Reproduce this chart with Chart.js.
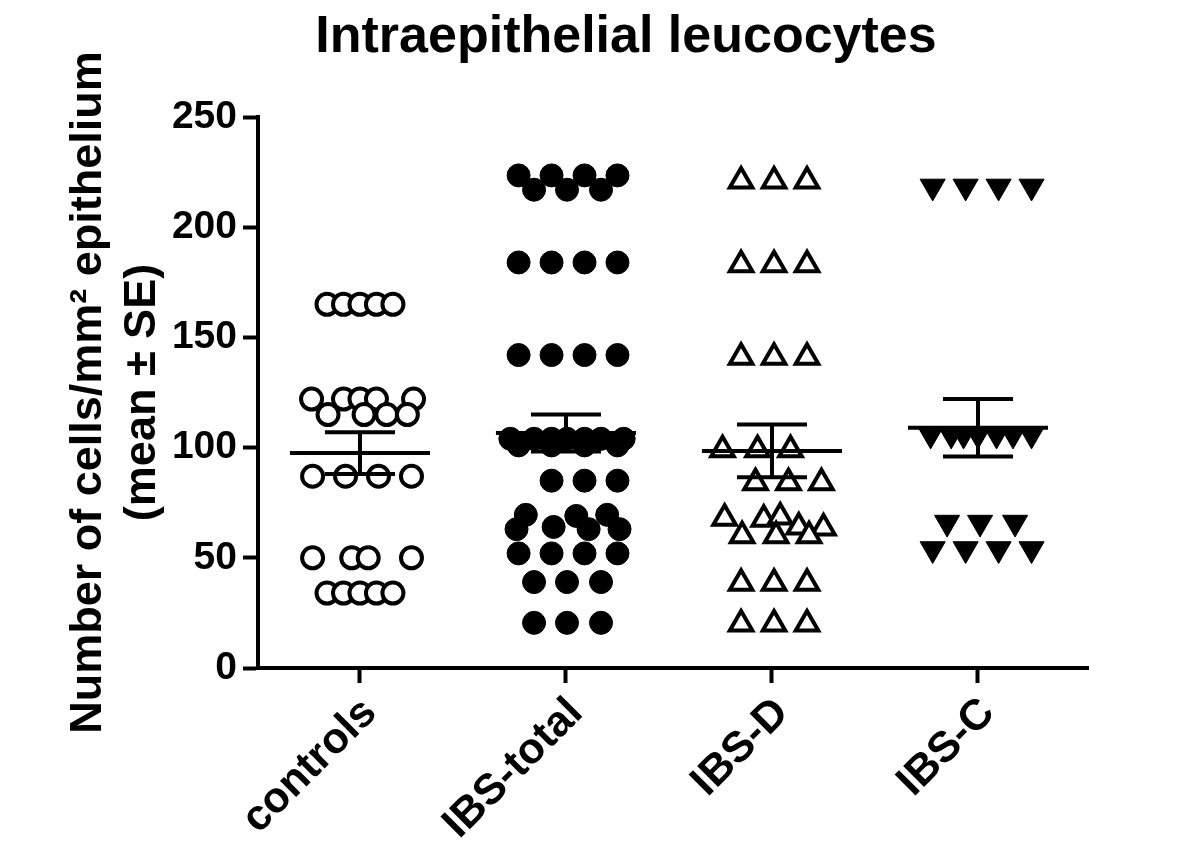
<!DOCTYPE html>
<html>
<head>
<meta charset="utf-8">
<title>Intraepithelial leucocytes</title>
<script src="https://cdn.jsdelivr.net/npm/chart.js@4.4.1/dist/chart.umd.min.js"></script>
<style>
  html, body { margin: 0; padding: 0; background: #fff; }
  #wrap { width: 1181px; height: 853px; }
</style>
</head>
<body>
<div id="wrap"><canvas id="grafico" width="1181" height="853"></canvas></div>
<script>
// Categorias e ticks
const groupLabels = ['controls', 'IBS-total', 'IBS-D', 'IBS-C'];
const yTicks = [0, 50, 100, 150, 200, 250];

// Valores individuais (cells/mm2) e deslocamento horizontal de cada ponto
const controlsValues = [165, 165, 165, 165, 165, 122, 122, 122, 122, 122, 115, 115, 115, 115,
  87, 87, 87, 87, 50, 50, 50, 50, 34, 34, 34, 34, 34];
const controlsJitter = [-0.16, -0.08, 0, 0.08, 0.16, -0.235, -0.08, 0, 0.08, 0.26, -0.155, 0.02, 0.13, 0.23,
  -0.23, -0.07, 0.09, 0.25, -0.23, -0.04, 0.04, 0.25, -0.16, -0.08, 0, 0.08, 0.16];

const ibsTotalValues = [223.5, 223.5, 223.5, 223.5, 217, 217, 217, 184, 184, 184, 184, 142, 142, 142, 142,
  104, 104, 104, 104, 104, 104, 104, 101, 101, 101, 101, 85, 85, 85,
  69.5, 63, 64, 69, 63, 69.5, 63, 52, 52, 52, 52, 39, 39, 39, 20.5, 20.5, 20.5];
const ibsTotalJitter = [-0.23, -0.07, 0.09, 0.25, -0.155, 0.005, 0.17, -0.23, -0.07, 0.09, 0.25, -0.23, -0.07, 0.09, 0.25,
  -0.27, -0.155, -0.07, 0.005, 0.09, 0.17, 0.28, -0.23, -0.07, 0.09, 0.25, -0.07, 0.09, 0.25,
  -0.195, -0.24, -0.06, 0.05, 0.11, 0.2, 0.26, -0.23, -0.07, 0.09, 0.25, -0.155, 0.005, 0.17, -0.155, 0.005, 0.17];

const ibsDValues = [221, 221, 221, 183, 183, 183, 141, 141, 141, 99, 99, 99, 84, 84, 84,
  68, 67.5, 68.5, 64, 63.5, 60, 60, 60, 38.5, 38.5, 38.5, 20, 20, 20];
const ibsDJitter = [-0.15, 0.01, 0.17, -0.15, 0.01, 0.17, -0.15, 0.01, 0.17, -0.24, -0.07, 0.09, -0.08, 0.08, 0.24,
  -0.23, -0.04, 0.04, 0.13, 0.25, -0.145, 0.02, 0.18, -0.15, 0.01, 0.17, -0.15, 0.01, 0.17];

const ibsCValues = [218.5, 218.5, 218.5, 218.5, 106, 106, 106, 106, 106, 106, 106, 66, 66, 66, 54, 54, 54, 54];
const ibsCJitter = [-0.22, -0.06, 0.1, 0.26, -0.23, -0.13, -0.07, 0, 0.09, 0.17, 0.26, -0.15, 0.01, 0.18,
  -0.22, -0.06, 0.1, 0.26];

// Média e erro padrão de cada grupo
const groupMeans = [97.5, 106.6, 98.5, 109];
const groupSE = [9.5, 8.4, 12, 13];

const FONTE = '"Liberation Sans", Arial, Helvetica, sans-serif';
const MEIA_LARGURA_MEDIA = 0.34;
const MEIA_LARGURA_CAP = 0.17;

/**
 * Converte valores + deslocamentos em pontos {x, y}.
 */
function pontos(indice, valores, jitter) {
  return valores.map((v, i) => ({ x: indice + 1 + jitter[i], y: v }));
}

/**
 * Segmentos da linha de média e barras de erro (separados por y null).
 */
function barrasErro() {
  const pts = [];
  groupMeans.forEach((m, i) => {
    const c = i + 1;
    const se = groupSE[i];
    pts.push({ x: c - MEIA_LARGURA_MEDIA, y: m }, { x: c + MEIA_LARGURA_MEDIA, y: m }, { x: c, y: null });
    pts.push({ x: c, y: m - se }, { x: c, y: m + se }, { x: c, y: null });
    pts.push({ x: c - MEIA_LARGURA_CAP, y: m + se }, { x: c + MEIA_LARGURA_CAP, y: m + se }, { x: c, y: null });
    pts.push({ x: c - MEIA_LARGURA_CAP, y: m - se }, { x: c + MEIA_LARGURA_CAP, y: m - se }, { x: c, y: null });
  });
  return pts;
}

// Título desenhado numa posição fixa
const tituloPlugin = {
  id: 'tituloFixo',
  afterDraw(chart, args, opts) {
    const ctx = chart.ctx;
    ctx.save();
    ctx.font = 'bold 52px ' + FONTE;
    ctx.fillStyle = '#000';
    ctx.textAlign = 'center';
    ctx.textBaseline = 'alphabetic';
    ctx.fillText(opts.text, opts.x, opts.y);
    ctx.restore();
  }
};

const ctx = document.getElementById('grafico').getContext('2d');
new Chart(ctx, {
  type: 'scatter',
  data: {
    datasets: [
      {
        label: 'mean ± SE',
        type: 'line',
        data: barrasErro(),
        showLine: true,
        spanGaps: false,
        borderColor: '#000',
        borderWidth: 4,
        pointRadius: 0,
        fill: false,
        order: 0
      },
      {
        label: groupLabels[0],
        data: pontos(0, controlsValues, controlsJitter),
        pointStyle: 'circle',
        pointRadius: 10.5,
        backgroundColor: '#fff',
        borderColor: '#000',
        borderWidth: 4,
        order: 1
      },
      {
        label: groupLabels[1],
        data: pontos(1, ibsTotalValues, ibsTotalJitter),
        pointStyle: 'circle',
        pointRadius: 11.5,
        backgroundColor: '#000',
        borderColor: '#000',
        borderWidth: 1,
        order: 1
      },
      {
        label: groupLabels[2],
        data: pontos(2, ibsDValues, ibsDJitter),
        pointStyle: 'triangle',
        pointRadius: 13,
        backgroundColor: '#fff',
        borderColor: '#000',
        borderWidth: 4,
        order: 1
      },
      {
        label: groupLabels[3],
        data: pontos(3, ibsCValues, ibsCJitter),
        pointStyle: 'triangle',
        rotation: 180,
        pointRadius: 14.5,
        backgroundColor: '#000',
        borderColor: '#000',
        borderWidth: 1,
        order: 1
      }
    ]
  },
  options: {
    responsive: false,
    animation: false,
    events: [],
    layout: { padding: { top: 117, left: 0, right: 93, bottom: 0 } },
    plugins: {
      legend: { display: false },
      tooltip: { enabled: false },
      tituloFixo: { text: 'Intraepithelial leucocytes', x: 626, y: 52 }
    },
    scales: {
      x: {
        type: 'linear',
        min: 0.505,
        max: 4.534,
        afterBuildTicks: axis => {
          axis.ticks = groupLabels.map((_, i) => ({ value: i + 1 }));
        },
        afterFit: scale => { scale.height = 185; },
        ticks: {
          autoSkip: false,
          minRotation: 45,
          maxRotation: 45,
          padding: 5,
          labelOffset: 10,
          color: '#000',
          font: { family: FONTE, size: 43, weight: 'bold' },
          callback: value => groupLabels[value - 1] ?? ''
        },
        grid: {
          drawOnChartArea: false,
          drawTicks: true,
          tickLength: 15,
          tickWidth: 4,
          tickColor: '#000'
        },
        border: { display: true, color: '#000', width: 4 }
      },
      y: {
        min: 0,
        max: 250,
        afterBuildTicks: axis => {
          axis.ticks = yTicks.map(v => ({ value: v }));
        },
        afterFit: scale => { scale.width = 258; },
        ticks: {
          padding: 6,
          color: '#000',
          font: { family: FONTE, size: 39, weight: 'bold' }
        },
        grid: {
          drawOnChartArea: false,
          drawTicks: true,
          tickLength: 15,
          tickWidth: 4,
          tickColor: '#000'
        },
        border: { display: true, color: '#000', width: 4 },
        title: {
          display: true,
          text: ['Number of cells/mm² epithelium', '(mean ± SE)'],
          color: '#000',
          padding: { top: 62, bottom: 0 },
          font: { family: FONTE, size: 45, weight: 'bold', lineHeight: 1.2 }
        }
      }
    }
  },
  plugins: [tituloPlugin]
});
</script>
</body>
</html>
